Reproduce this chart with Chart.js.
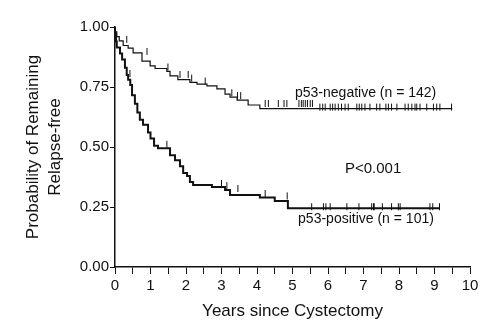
<!DOCTYPE html>
<html>
<head>
<meta charset="utf-8">
<script src="https://cdn.jsdelivr.net/npm/chart.js@4.4.0/dist/chart.umd.min.js"></script>
<style>
  html, body { margin: 0; padding: 0; background: #fff; }
  #wrap { width: 500px; height: 333px; }
</style>
</head>
<body>
<div id="wrap"><canvas id="km"></canvas></div>
<script>
// Kaplan-Meier steps: time of each drop (years) and survival after the drop
var negTimes = [0.05, 0.12, 0.23, 0.37, 0.51, 0.76, 0.99, 1.13, 1.46, 1.55, 1.77, 2.11, 2.31, 2.59, 2.87, 3.1, 3.24, 3.44, 3.75, 4.08, 5.63];
var negSurv  = [0.98, 0.96, 0.942, 0.923, 0.912, 0.892, 0.858, 0.838, 0.827, 0.815, 0.796, 0.781, 0.769, 0.762, 0.755, 0.742, 0.72, 0.708, 0.695, 0.675, 0.66];
var negEnd = 9.5;
var negCensor = [0.33, 0.9, 1.49, 1.83, 2.06, 2.16, 2.54, 3.29, 3.45, 3.54, 4.23, 4.32, 4.6, 4.76, 4.84,
  5.18, 5.25, 5.3, 5.36, 5.42, 5.5, 5.56, 5.77, 5.85, 5.92, 6.06, 6.13, 6.2, 6.29, 6.38, 6.48, 6.57,
  6.81, 6.88, 6.95, 7.04, 7.18, 7.37, 7.46, 7.63, 7.7, 7.79, 7.94, 8.17, 8.26, 8.36, 8.45, 8.5, 8.59,
  8.78, 8.97, 9.06, 9.15, 9.48];

var posTimes = [0.03, 0.05, 0.14, 0.2, 0.28, 0.33, 0.37, 0.43, 0.48, 0.56, 0.63, 0.7, 0.79, 0.93, 1.0, 1.1, 1.21, 1.55, 1.69, 1.83, 1.92, 2.03, 2.11, 2.2, 2.73, 3.1, 3.24, 4.08, 4.5, 4.87, 4.93];
var posSurv  = [0.97, 0.94, 0.915, 0.89, 0.865, 0.83, 0.8, 0.78, 0.758, 0.716, 0.68, 0.644, 0.614, 0.593, 0.56, 0.535, 0.505, 0.495, 0.466, 0.445, 0.42, 0.392, 0.379, 0.354, 0.342, 0.333, 0.321, 0.3, 0.29, 0.275, 0.245];
var posEnd = 9.15;
var posCensor = [0.42, 1.46, 3.0, 3.15, 3.46, 4.23, 4.85, 5.54, 5.87, 5.94, 6.06, 6.53, 6.87, 7.23, 7.28, 7.3,
  7.53, 7.79, 7.98, 8.03, 8.87, 8.95, 9.14];

var xTicks = [0, 1, 2, 3, 4, 5, 6, 7, 8, 9, 10];
var yTicks = [0, 0.25, 0.5, 0.75, 1];

var notes = [
  { text: 'p53-negative (n = 142)', x: 7.06, y: 0.725, size: 14 },
  { text: 'P<0.001', x: 7.27, y: 0.41, size: 15 },
  { text: 'p53-positive (n = 101)', x: 7.07, y: 0.2, size: 14 }
];

function stepPoints(times, surv, end) {
  var pts = [{ x: 0, y: 1 }];
  for (var i = 0; i < times.length; i++) pts.push({ x: times[i], y: surv[i] });
  pts.push({ x: end, y: surv[surv.length - 1] });
  return pts;
}

function survAt(times, surv, t) {
  var s = 1;
  for (var i = 0; i < times.length; i++) {
    if (times[i] <= t) s = surv[i];
  }
  return s;
}

function censorPoints(times, surv, cens) {
  return cens.map(function (t) { return { x: t, y: survAt(times, surv, t) }; });
}

// upward tick used as point style for censored cases (bottom sits on the curve)
function tickMark(h) {
  var c = document.createElement('canvas');
  c.width = 3;
  c.height = h * 2;
  var g = c.getContext('2d');
  g.fillStyle = '#111';
  g.fillRect(1, 1, 1, h + 1);
  return c;
}
var censorTick = tickMark(6);

var notesPlugin = {
  id: 'notes',
  afterDatasetsDraw: function (chart) {
    var ctx = chart.ctx;
    ctx.save();
    ctx.fillStyle = '#111';
    ctx.textAlign = 'center';
    ctx.textBaseline = 'middle';
    notes.forEach(function (n) {
      ctx.font = n.size + 'px "Liberation Sans", Arial, sans-serif';
      ctx.fillText(n.text, chart.scales.x.getPixelForValue(n.x), chart.scales.y.getPixelForValue(n.y));
    });
    ctx.restore();
  }
};

var fontFamily = '"Liberation Sans", Arial, sans-serif';

new Chart(document.getElementById('km'), {
  type: 'line',
  data: {
    datasets: [
      {
        label: 'p53-negative',
        data: stepPoints(negTimes, negSurv, negEnd),
        stepped: 'after',
        borderColor: '#111',
        borderWidth: 1.2,
        pointRadius: 0
      },
      {
        label: 'p53-positive',
        data: stepPoints(posTimes, posSurv, posEnd),
        stepped: 'after',
        borderColor: '#111',
        borderWidth: 2,
        pointRadius: 0
      },
      {
        type: 'scatter',
        label: 'neg censored',
        data: censorPoints(negTimes, negSurv, negCensor),
        pointStyle: censorTick,
        showLine: false
      },
      {
        type: 'scatter',
        label: 'pos censored',
        data: censorPoints(posTimes, posSurv, posCensor),
        pointStyle: censorTick,
        showLine: false
      }
    ]
  },
  options: {
    responsive: true,
    maintainAspectRatio: false,
    animation: false,
    layout: { padding: { top: 27, right: 30, left: 0, bottom: 0 } },
    plugins: {
      legend: { display: false },
      tooltip: { enabled: false }
    },
    scales: {
      x: {
        type: 'linear',
        min: 0,
        max: 10,
        afterFit: function (scale) { scale.height = 66; },
        afterBuildTicks: function (scale) {
          var t = [];
          for (var i = 0; i < xTicks.length; i++) {
            t.push({ value: xTicks[i] });
            if (i < xTicks.length - 1) t.push({ value: (xTicks[i] + xTicks[i + 1]) / 2 });
          }
          scale.ticks = t.sort(function (a, b) { return a.value - b.value; });
        },
        border: { display: true, color: '#111', width: 1.5 },
        grid: { display: true, drawOnChartArea: false, drawTicks: true, tickLength: 7, color: '#111', lineWidth: 1 },
        ticks: {
          autoSkip: false,
          maxRotation: 0,
          padding: 3,
          color: '#111',
          font: { family: fontFamily, size: 15 },
          callback: function (v) { return xTicks.indexOf(v) >= 0 ? String(v) : ''; }
        },
        title: {
          display: true,
          text: 'Years since Cystectomy',
          color: '#111',
          font: { family: fontFamily, size: 17 },
          padding: { top: 0, bottom: 11 }
        }
      },
      y: {
        min: 0,
        max: 1,
        afterFit: function (scale) { scale.width = 115; },
        afterBuildTicks: function (scale) {
          scale.ticks = yTicks.map(function (v) { return { value: v }; });
        },
        border: { display: true, color: '#111', width: 1.5 },
        grid: { display: true, drawOnChartArea: false, drawTicks: true, tickLength: 5, color: '#111', lineWidth: 1 },
        ticks: {
          padding: 1,
          color: '#111',
          font: { family: fontFamily, size: 15 },
          callback: function (v) { return Number(v).toFixed(2); }
        },
        title: {
          display: true,
          text: ['Probability of Remaining', 'Relapse-free'],
          color: '#111',
          font: { family: fontFamily, size: 17, lineHeight: 1.3 },
          padding: { top: 22, bottom: 0 }
        }
      }
    }
  },
  plugins: [notesPlugin]
});
</script>
</body>
</html>
